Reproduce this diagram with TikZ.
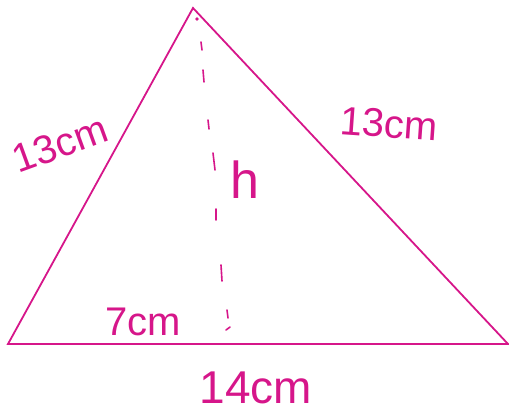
\documentclass[tikz,border=0pt]{standalone}
\usepackage{fontspec}
\setmainfont{Liberation Sans}
\definecolor{mag}{RGB}{214,22,138}
\begin{document}
\begin{tikzpicture}[x=1pt,y=-1pt,
  edge/.style={draw=mag,line width=1.8pt,line join=miter},
  dsh/.style={draw=mag,line width=1.6pt,line cap=round},
  lbl/.style={text=mag,inner sep=0pt,font=\fontsize{40}{40}\selectfont}]
\useasboundingbox (0,0) rectangle (509,412);
\coordinate (A) at (193,8);
\coordinate (B) at (8,344);
\coordinate (C) at (508,344);
\draw[edge] (A) -- (B) -- (C) -- cycle;
% hand-drawn dashed height
\fill[mag] (197,19) circle (1.8);
\draw[dsh] (201,42) -- (202,50);
\draw[dsh] (203,70) -- (204,82);
\draw[dsh] (208,120) -- (209,129);
\draw[dsh] (213,153) -- (215,170);
\draw[dsh] (216,209) -- (216,220);
\draw[dsh] (221,265) -- (222,281);
\draw[dsh] (227,310) -- (228,318);
\draw[dsh] (226,330) -- (230,327);
\node[lbl,rotate=20] (l1) at (60,144) {13cm};
\node[lbl,rotate=-4] (l2) at (389,124) {13cm};
\node[lbl,font=\fontsize{52}{52}\selectfont] (lh) at (245,180) {h};
\node[lbl] (l7) at (143,322) {7cm};
\node[lbl,font=\fontsize{46}{46}\selectfont] (l14) at (256,388) {14cm};
\end{tikzpicture}
\end{document}
